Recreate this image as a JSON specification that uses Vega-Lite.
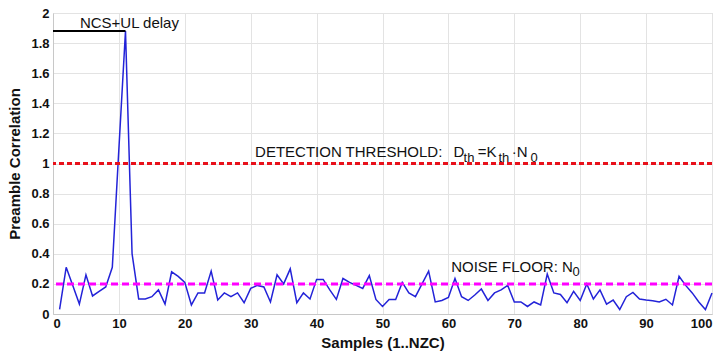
{
  "$schema": "https://vega.github.io/schema/vega-lite/v6.json",
  "width": 659,
  "height": 301,
  "autosize": {"type": "none"},
  "padding": {"left": 53, "top": 13, "right": 9, "bottom": 37},
  "background": "white",
  "config": {
    "view": {"stroke": "#d0d0d0"},
    "font": "Liberation Sans",
    "axis": {"gridColor": "#e3e3e3", "domainColor": "#c8c8c8", "ticks": false, "labelOverlap": false, "labelFont": "Liberation Sans", "labelFontWeight": "bold", "labelColor": "#111", "titleFont": "Liberation Sans", "titleFontWeight": "bold", "titleColor": "#111", "labelFontSize": 13, "titleFontSize": 15},
    "axisX": {"labelPadding": 3, "titlePadding": 5},
    "axisY": {"labelPadding": 4, "titlePadding": 8}
  },
  "datasets": {
    "series": [
      {"k":1,"v":0.03},{"k":2,"v":0.31},{"k":3,"v":0.19},{"k":4,"v":0.066},{"k":5,"v":0.26},
      {"k":6,"v":0.12},{"k":7,"v":0.15},{"k":8,"v":0.18},{"k":9,"v":0.31},{"k":10,"v":1.1},
      {"k":11,"v":1.88},{"k":12,"v":0.40},{"k":13,"v":0.10},{"k":14,"v":0.10},{"k":15,"v":0.115},
      {"k":16,"v":0.16},{"k":17,"v":0.066},{"k":18,"v":0.28},{"k":19,"v":0.25},{"k":20,"v":0.21},
      {"k":21,"v":0.06},{"k":22,"v":0.14},{"k":23,"v":0.14},{"k":24,"v":0.285},{"k":25,"v":0.093},
      {"k":26,"v":0.14},{"k":27,"v":0.115},{"k":28,"v":0.14},{"k":29,"v":0.075},{"k":30,"v":0.17},
      {"k":31,"v":0.19},{"k":32,"v":0.18},{"k":33,"v":0.08},{"k":34,"v":0.26},{"k":35,"v":0.2},
      {"k":36,"v":0.30},{"k":37,"v":0.075},{"k":38,"v":0.14},{"k":39,"v":0.10},{"k":40,"v":0.23},
      {"k":41,"v":0.23},{"k":42,"v":0.16},{"k":43,"v":0.097},{"k":44,"v":0.236},{"k":45,"v":0.21},
      {"k":46,"v":0.19},{"k":47,"v":0.17},{"k":48,"v":0.255},{"k":49,"v":0.097},{"k":50,"v":0.05},
      {"k":51,"v":0.097},{"k":52,"v":0.097},{"k":53,"v":0.21},{"k":54,"v":0.14},{"k":55,"v":0.115},
      {"k":56,"v":0.2},{"k":57,"v":0.285},{"k":58,"v":0.08},{"k":59,"v":0.09},{"k":60,"v":0.11},
      {"k":61,"v":0.236},{"k":62,"v":0.115},{"k":63,"v":0.09},{"k":64,"v":0.126},{"k":65,"v":0.166},
      {"k":66,"v":0.09},{"k":67,"v":0.14},{"k":68,"v":0.16},{"k":69,"v":0.19},{"k":70,"v":0.08},
      {"k":71,"v":0.08},{"k":72,"v":0.05},{"k":73,"v":0.08},{"k":74,"v":0.06},{"k":75,"v":0.265},
      {"k":76,"v":0.14},{"k":77,"v":0.13},{"k":78,"v":0.075},{"k":79,"v":0.15},{"k":80,"v":0.09},
      {"k":81,"v":0.2},{"k":82,"v":0.1},{"k":83,"v":0.16},{"k":84,"v":0.066},{"k":85,"v":0.093},
      {"k":86,"v":0.03},{"k":87,"v":0.115},{"k":88,"v":0.143},{"k":89,"v":0.1},{"k":90,"v":0.093},
      {"k":91,"v":0.088},{"k":92,"v":0.08},{"k":93,"v":0.098},{"k":94,"v":0.06},{"k":95,"v":0.25},
      {"k":96,"v":0.19},{"k":97,"v":0.14},{"k":98,"v":0.08},{"k":99,"v":0.03},{"k":100,"v":0.14}
    ],
    "labels": [
      {"x":30.66,"y":1.043,"t":"DETECTION THRESHOLD:","s":15},
      {"x":60.77,"y":1.043,"t":"D","s":15},
      {"x":62.3,"y":1.01,"t":"th","s":13},
      {"x":64.45,"y":1.043,"t":"=K","s":15},
      {"x":67.6,"y":1.01,"t":"th","s":13},
      {"x":69.6,"y":1.043,"t":"·N","s":15},
      {"x":72.45,"y":1.01,"t":"0","s":13},
      {"x":60.42,"y":0.279,"t":"NOISE FLOOR: N","s":15},
      {"x":78.85,"y":0.252,"t":"0","s":13},
      {"x":4.08,"y":1.898,"t":"NCS+UL delay","s":15}
    ],
    "one": [{"a": 1}]
  },
  "layer": [
    {
      "data": {"name": "series"},
      "mark": {"type": "line", "color": "#2323d8", "strokeWidth": 1.5},
      "encoding": {
        "x": {"field": "k", "type": "quantitative", "scale": {"domain": [0, 100], "nice": false},
              "axis": {"values": [0,10,20,30,40,50,60,70,80,90,100], "title": "Samples (1..NZC)"}},
        "y": {"field": "v", "type": "quantitative", "scale": {"domain": [0, 2], "nice": false},
              "axis": {"values": [0,0.2,0.4,0.6,0.8,1,1.2,1.4,1.6,1.8,2], "format": ".1~f", "title": "Preamble Correlation"}}
      }
    },
    {
      "data": {"name": "one"},
      "mark": {"type": "rule", "color": "#e8101a", "strokeWidth": 3, "strokeDash": [5, 3]},
      "encoding": {"y": {"datum": 1, "type": "quantitative",
              "axis": {"values": [0,0.2,0.4,0.6,0.8,1,1.2,1.4,1.6,1.8,2], "format": ".1~f", "title": "Preamble Correlation"}}}
    },
    {
      "data": {"name": "one"},
      "mark": {"type": "rule", "color": "#ff00ff", "strokeWidth": 3, "strokeDash": [7, 4]},
      "encoding": {"y": {"datum": 0.2, "type": "quantitative",
              "axis": {"values": [0,0.2,0.4,0.6,0.8,1,1.2,1.4,1.6,1.8,2], "format": ".1~f", "title": "Preamble Correlation"}}}
    },
    {
      "data": {"name": "one"},
      "mark": {"type": "rule", "color": "#000000", "strokeWidth": 2},
      "encoding": {
        "x": {"datum": 0, "type": "quantitative", "axis": {"values": [0,10,20,30,40,50,60,70,80,90,100], "title": "Samples (1..NZC)"}},
        "x2": {"datum": 11},
        "y": {"datum": 1.88, "type": "quantitative",
              "axis": {"values": [0,0.2,0.4,0.6,0.8,1,1.2,1.4,1.6,1.8,2], "format": ".1~f", "title": "Preamble Correlation"}}
      }
    },
    {
      "data": {"name": "labels"},
      "mark": {"type": "text", "align": "left", "baseline": "alphabetic", "font": "Liberation Sans", "color": "#111"},
      "encoding": {
        "x": {"field": "x", "type": "quantitative", "axis": {"values": [0,10,20,30,40,50,60,70,80,90,100], "title": "Samples (1..NZC)"}},
        "y": {"field": "y", "type": "quantitative",
              "axis": {"values": [0,0.2,0.4,0.6,0.8,1,1.2,1.4,1.6,1.8,2], "format": ".1~f", "title": "Preamble Correlation"}},
        "text": {"field": "t"},
        "size": {"field": "s", "type": "quantitative", "scale": null}
      }
    }
  ]
}
